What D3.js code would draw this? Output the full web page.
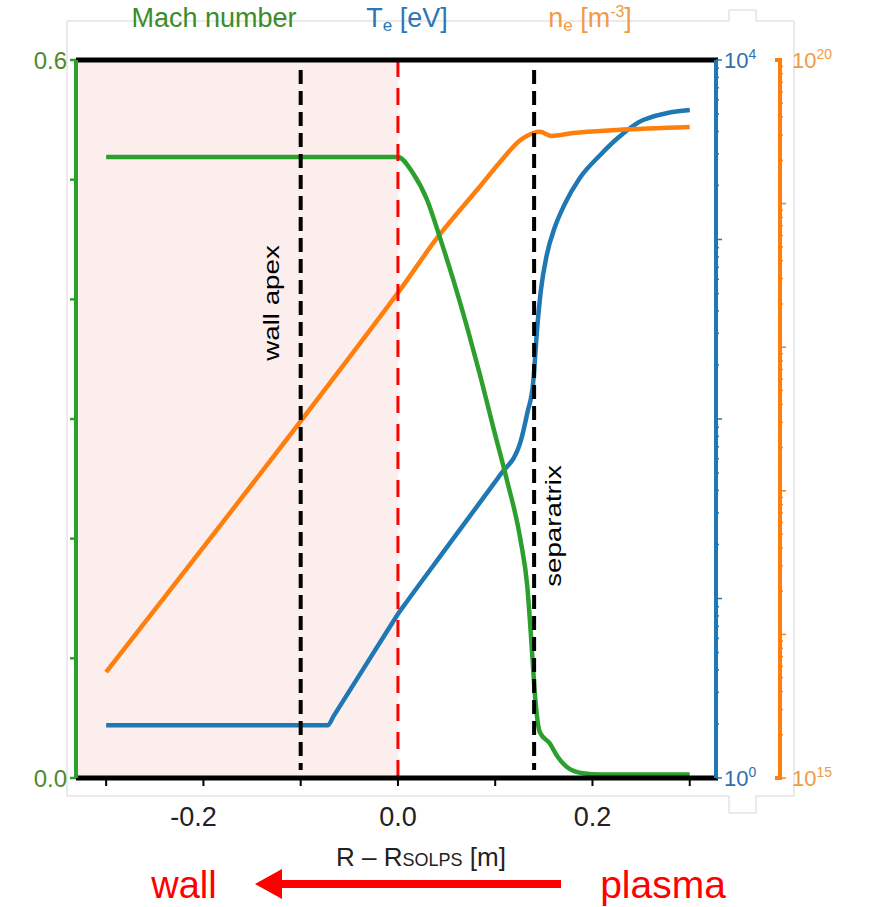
<!DOCTYPE html>
<html>
<head>
<meta charset="utf-8">
<script src="https://cdn.jsdelivr.net/npm/d3@7"></script>
<style>
  body { margin: 0; background: #fff; }
  text { font-family: "Liberation Sans", Arial, sans-serif; }
</style>
</head>
<body>
<script>
(function(d3) {

  // Radial coordinate R - R_SOLPS [m] of the sampled points, one list per curve.
  var machX = [-0.300, 0.000, 0.015, 0.030, 0.043, 0.057, 0.071, 0.084, 0.098, 0.112,
    0.126, 0.133, 0.138, 0.141, 0.146, 0.156, 0.164, 0.174, 0.190, 0.208, 0.300];
  var machY = [0.519, 0.519, 0.506, 0.483, 0.452, 0.416, 0.377, 0.338, 0.293, 0.249,
    0.199, 0.160, 0.104, 0.068, 0.038, 0.029, 0.018, 0.009, 0.004, 0.003, 0.003];

  var teX = [-0.300, -0.078, -0.072, -0.066, -0.006, 0.000, 0.006, 0.050, 0.095, 0.105,
    0.126, 0.133, 0.139, 0.143, 0.147, 0.153, 0.161, 0.171, 0.187, 0.208, 0.226, 0.252, 0.300];
  var teY = [1.97, 1.97, 1.97, 2.22, 7.28, 8.2, 9.1, 19.2, 41.1, 48.8,
    74.5, 108, 159, 313, 523, 820, 1159, 1557, 2202, 2956, 3675, 4634, 5260];

  var neX = [-0.300, -0.010, 0.000, 0.041, 0.084, 0.105, 0.126, 0.139, 0.146, 0.158, 0.180, 0.225, 0.300];
  var neY = [5.47e15, 1.94e18, 2.39e18, 5.86e18, 1.31e19, 1.95e19, 2.77e19, 3.10e19, 3.16e19,
    2.96e19, 3.10e19, 3.26e19, 3.42e19];

  // Ticks and markers
  var xTicks = [-0.3, -0.2, -0.1, 0.0, 0.1, 0.2, 0.3],
    xLabels = [-0.2, 0.0, 0.2],
    machTicks = [0, 0.1, 0.2, 0.3, 0.4, 0.5, 0.6],
    wallApex = -0.1,
    separatrix = 0.14,
    wallEdge = 0.0;

  var colors = { mach: '#2ca02c', te: '#1f77b4', ne: '#ff7f0e' };

  var width = 869, height = 907;
  var left = 76, right = 716, top = 60, bottom = 778, neAxisX = 780;

  var svg = d3.select('body').append('svg')
    .attr('width', width)
    .attr('height', height);

  var x = d3.scaleLinear().domain([-0.331, 0.327]).range([left, right]);
  var yMach = d3.scaleLinear().domain([0, 0.6]).range([bottom, top]);
  var yTe = d3.scaleLog().domain([1, 1e4]).range([bottom, top]);
  var yNe = d3.scaleLog().domain([1e15, 1e20]).range([bottom, top]);

  // Light grey frame with the small tabs on the right
  svg.append('path')
    .attr('d', 'M67,21H729V10H756V21H794V796H756V813H729V796H67Z')
    .attr('fill', 'none')
    .attr('stroke', '#d6d6d6')
    .attr('stroke-width', 1);

  // Shaded wall region
  svg.append('rect')
    .attr('x', left)
    .attr('y', top)
    .attr('width', x(wallEdge) - left)
    .attr('height', bottom - top)
    .attr('fill', '#fdeeee');

  function curve(xs, ys, yScale, color) {
    var line = d3.line()
      .x(function(d, i) { return x(xs[i]); })
      .y(function(d) { return yScale(d); })
      .curve(d3.curveMonotoneX);
    svg.append('path')
      .datum(ys)
      .attr('d', line)
      .attr('fill', 'none')
      .attr('stroke', color)
      .attr('stroke-width', 4.5)
      .attr('stroke-linejoin', 'round');
  }

  curve(teX, teY, yTe, colors.te);
  curve(neX, neY, yNe, colors.ne);
  curve(machX, machY, yMach, colors.mach);

  // Dashed markers
  [wallApex, separatrix].forEach(function(v) {
    svg.append('line')
      .attr('x1', x(v)).attr('x2', x(v))
      .attr('y1', top + 10).attr('y2', bottom - 8)
      .attr('stroke', '#000')
      .attr('stroke-width', 4)
      .attr('stroke-dasharray', '14,7');
  });
  svg.append('line')
    .attr('x1', x(wallEdge)).attr('x2', x(wallEdge))
    .attr('y1', top).attr('y2', bottom)
    .attr('stroke', '#ff0000')
    .attr('stroke-width', 3)
    .attr('stroke-dasharray', '17,11');

  // Thick black top and bottom borders
  [top, bottom].forEach(function(yy) {
    svg.append('line')
      .attr('x1', left).attr('x2', right + 2)
      .attr('y1', yy).attr('y2', yy)
      .attr('stroke', '#000')
      .attr('stroke-width', 5);
  });

  // x axis ticks and labels
  svg.selectAll('.xtick').data(xTicks).enter().append('line')
    .attr('x1', function(d) { return x(d); })
    .attr('x2', function(d) { return x(d); })
    .attr('y1', bottom + 2).attr('y2', bottom + 8)
    .attr('stroke', '#000').attr('stroke-width', 2);
  svg.selectAll('.xlab').data(xLabels).enter().append('text')
    .attr('x', function(d) { return x(d) - (d < 0 ? 10 : 0); })
    .attr('y', 826)
    .attr('text-anchor', 'middle')
    .attr('font-size', 27)
    .attr('fill', '#222')
    .text(function(d) { return d3.format('.1f')(d).replace('−', '-'); });

  var xt = svg.append('text')
    .attr('x', 421).attr('y', 866)
    .attr('text-anchor', 'middle')
    .attr('font-size', 26)
    .attr('fill', '#222');
  xt.append('tspan').text('R – R');
  xt.append('tspan').attr('font-size', 18).text('SOLPS');
  xt.append('tspan').text(' [m]');

  // Left Mach axis
  svg.append('line')
    .attr('x1', left).attr('x2', left)
    .attr('y1', top).attr('y2', bottom)
    .attr('stroke', colors.mach).attr('stroke-width', 4);
  svg.selectAll('.mtick').data(machTicks).enter().append('line')
    .attr('x1', left - 6).attr('x2', left)
    .attr('y1', function(d) { return yMach(d); })
    .attr('y2', function(d) { return yMach(d); })
    .attr('stroke', colors.mach).attr('stroke-width', 2.5);
  svg.selectAll('.mlab').data([0, 0.6]).enter().append('text')
    .attr('x', left - 9)
    .attr('y', function(d) { return yMach(d) + 9; })
    .attr('text-anchor', 'end')
    .attr('font-family', 'DejaVu Sans')
    .attr('font-size', 24)
    .attr('fill', '#4e8a2e')
    .text(function(d) { return d3.format('.1f')(d); });

  // Te log axis
  var teMinor = [];
  d3.range(0, 4).forEach(function(e) {
    d3.range(1, 10).forEach(function(m) { teMinor.push(m * Math.pow(10, e)); });
  });
  teMinor.push(1e4);
  svg.append('line')
    .attr('x1', right).attr('x2', right)
    .attr('y1', top).attr('y2', bottom)
    .attr('stroke', colors.te).attr('stroke-width', 4);
  svg.selectAll('.ttick').data(teMinor).enter().append('line')
    .attr('x1', right)
    .attr('x2', function(d) { return Math.log10(d) % 1 === 0 ? right + 6 : right + 3; })
    .attr('y1', function(d) { return yTe(d); })
    .attr('y2', function(d) { return yTe(d); })
    .attr('stroke', colors.te).attr('stroke-width', 1.5);

  // ne log axis with bracket ends
  var neMinor = [];
  d3.range(15, 20).forEach(function(e) {
    d3.range(1, 10).forEach(function(m) { neMinor.push(m * Math.pow(10, e)); });
  });
  svg.append('path')
    .attr('d', 'M' + (neAxisX - 5) + ',' + top + 'H' + neAxisX + 'V' + bottom + 'H' + (neAxisX - 5))
    .attr('fill', 'none')
    .attr('stroke', colors.ne).attr('stroke-width', 4);
  svg.selectAll('.ntick').data(neMinor).enter().append('line')
    .attr('x1', neAxisX)
    .attr('x2', function(d, i) { return i % 9 === 0 ? neAxisX + 6 : neAxisX + 3; })
    .attr('y1', function(d) { return yNe(d); })
    .attr('y2', function(d) { return yNe(d); })
    .attr('stroke', colors.ne).attr('stroke-width', 1.5);

  function powLabel(xx, yy, exp, color) {
    var t = svg.append('text')
      .attr('x', xx).attr('y', yy)
      .attr('font-family', 'DejaVu Sans')
      .attr('font-size', 22)
      .attr('fill', color);
    t.append('tspan').text('10');
    t.append('tspan').attr('font-size', 14).attr('dy', -9).text(exp);
  }
  powLabel(724, yTe(1e4) + 8, '4', '#2e6fae');
  powLabel(724, yTe(1) + 8, '0', '#2e6fae');
  powLabel(792, yNe(1e20) + 8, '20', '#f19a48');
  powLabel(792, yNe(1e15) + 8, '15', '#f19a48');

  // Titles above the plot
  svg.append('text')
    .attr('x', 214).attr('y', 27)
    .attr('text-anchor', 'middle')
    .attr('font-size', 27)
    .attr('fill', '#3c8c28')
    .text('Mach number');

  var te = svg.append('text')
    .attr('x', 407).attr('y', 27)
    .attr('text-anchor', 'middle')
    .attr('font-size', 27)
    .attr('fill', '#2e75b6');
  te.append('tspan').text('T');
  te.append('tspan').attr('font-size', 17).attr('dy', 4).text('e');
  te.append('tspan').attr('dy', -4).text(' [eV]');

  var ne = svg.append('text')
    .attr('x', 590).attr('y', 27)
    .attr('text-anchor', 'middle')
    .attr('font-size', 27)
    .attr('fill', '#f19a48');
  ne.append('tspan').text('n');
  ne.append('tspan').attr('font-size', 17).attr('dy', 4).text('e');
  ne.append('tspan').attr('dy', -4).text(' [m');
  ne.append('tspan').attr('font-size', 16).attr('dy', -10).text('-3');
  ne.append('tspan').attr('dy', 10).text(']');

  // Rotated marker labels (stretched along their length like the original)
  svg.append('text')
    .attr('transform', 'translate(279,303) rotate(-90) scale(1.26,1)')
    .attr('text-anchor', 'middle')
    .attr('font-size', 22)
    .attr('fill', '#000')
    .text('wall apex');
  svg.append('text')
    .attr('transform', 'translate(561,526) rotate(-90) scale(1.26,1)')
    .attr('text-anchor', 'middle')
    .attr('font-size', 22)
    .attr('fill', '#000')
    .text('separatrix');

  // wall <- plasma arrow
  svg.append('text')
    .attr('x', 184).attr('y', 898)
    .attr('text-anchor', 'middle')
    .attr('font-family', 'Open Sans')
    .attr('font-size', 38)
    .attr('fill', '#ff0000')
    .text('wall');
  svg.append('text')
    .attr('x', 663).attr('y', 898)
    .attr('text-anchor', 'middle')
    .attr('font-family', 'Open Sans')
    .attr('font-size', 39)
    .attr('fill', '#ff0000')
    .text('plasma');
  svg.append('line')
    .attr('x1', 561).attr('x2', 278)
    .attr('y1', 884).attr('y2', 884)
    .attr('stroke', '#ff0000').attr('stroke-width', 8);
  svg.append('path')
    .attr('d', 'M255,884L282,869L282,899Z')
    .attr('fill', '#ff0000');

})(d3);
</script>
</body>
</html>
